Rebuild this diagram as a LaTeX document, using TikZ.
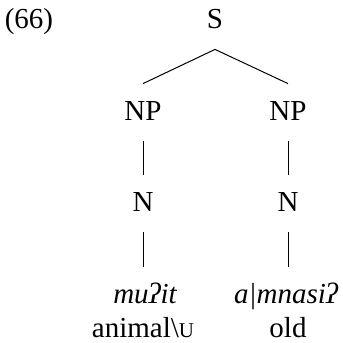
\documentclass[tikz,border=0pt]{standalone}
\usepackage{fontspec}
\setmainfont{Liberation Serif}
\begin{document}
\begin{tikzpicture}[x=0.5pt,y=-0.5pt,
  every node/.style={font=\fontsize{14.5}{17}\selectfont},
  cat/.style={anchor=base,inner xsep=0pt,inner ysep=10.5pt,text height=7.5pt,text depth=0pt},
  plain/.style={anchor=base,inner sep=0pt},
  edge/.style={line width=0.5pt}]
\useasboundingbox (0,0) rectangle (343,343);
\node[plain] (ex) at (29,28) {(66)};
\node[cat] (S) at (215,28) {S};
\node[cat] (NPa) at (143,120) {NP};
\node[cat] (NPb) at (288,120) {NP};
\node[cat] (Na) at (143,211) {N};
\node[cat] (Nb) at (288,211) {N};
\node[cat] (Wa) at (145,303) {\itshape muʔit};
\node[cat] (Wb) at (286,303) {\itshape a|mnasiʔ};
\node[plain] (Ga) at (143,337) {animal\textbackslash{\fontsize{10.5}{10.5}\selectfont U}};
\node[plain] (Gb) at (288,337) {old};
\draw[edge] (S.south) -- (NPa.north);
\draw[edge] (S.south) -- (NPb.north);
\draw[edge] (NPa.south) -- (Na.north);
\draw[edge] (NPb.south) -- (Nb.north);
\draw[edge] (Na.south) -- (Wa.north -| Na.south);
\draw[edge] (Nb.south) -- (Wb.north -| Nb.south);
\end{tikzpicture}
\end{document}
